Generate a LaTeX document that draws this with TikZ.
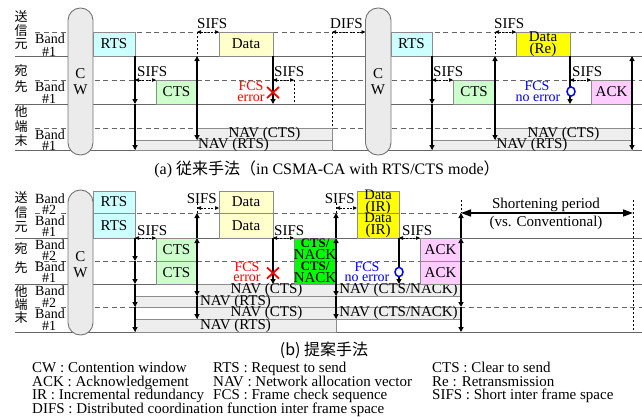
\documentclass[tikz,border=0pt]{standalone}
\usepackage{fontspec}
\setmainfont{Liberation Serif}
\newfontfamily\jp{Noto Sans CJK JP}
\usetikzlibrary{arrows.meta}
\definecolor{rtsc}{HTML}{CCFFFF}
\definecolor{ctsc}{HTML}{CCFFCC}
\definecolor{datc}{HTML}{FFFFCC}
\definecolor{yelc}{HTML}{FFFF00}
\definecolor{ackc}{HTML}{FFCCFF}
\definecolor{nackc}{HTML}{00FF00}
\definecolor{navc}{HTML}{EEEEEE}
\definecolor{cwc}{HTML}{EBEBEB}
\tikzset{
 txt/.style={inner sep=0pt, align=center, font=\fontsize{15}{12}\selectfont},
 boxst/.style={draw=black!45, line width=0.8pt},
 hl/.style={draw=black!60, line width=0.8pt},
 hd/.style={draw=black!60, line width=0.8pt, dash pattern=on 5pt off 3.5pt},
 cwst/.style={draw=black!55, fill=cwc, line width=0.9pt, rounded corners=12.4pt},
 va/.style={line width=1.3pt, -{Triangle[length=5pt,width=5pt]}},
 sa/.style={line width=0.7pt, dash pattern=on 2pt off 1.5pt, {Triangle[length=4pt,width=3.5pt]}-{Triangle[length=4pt,width=3.5pt]}},
 vd/.style={line width=0.7pt, dash pattern=on 2pt off 2pt},
 jpl/.style={inner sep=0pt, font=\jp\fontsize{13}{13}\selectfont},
 bl/.style={inner sep=0pt, font=\fontsize{14}{14}\selectfont},
 bw/.style={inner sep=0.8pt, fill=white, font=\fontsize{14}{14}\selectfont},
 fcs/.style={inner sep=0pt, font=\fontsize{14}{14}\selectfont},
 lg/.style={inner sep=0pt, anchor=base west, font=\fontsize{15}{14}\selectfont},
 sl/.style={inner sep=0pt, font=\fontsize{15}{15}\selectfont},
 xm/.style={red, line width=1.8pt},
 om/.style={blue, line width=1.5pt, fill=white},
}
\newcommand\mybox[7]{\path[boxst, fill=#5] (#1,#2) rectangle (#3,#4);
 \node[txt] (#7) at ({(#1+#3)/2},{(#2+#4)/2}) {#6};}
\begin{document}
\begin{tikzpicture}[x=1pt,y=-1pt]
\useasboundingbox (0,0) rectangle (642,416);
%% ================= (a) =================
\draw[hl] (15,56) -- (642,56);
\draw[hl] (15,104) -- (642,104);
\draw[hl] (15,150) -- (642,150);
\draw[hd] (35,32) -- (642,32);
\draw[hd] (35,80) -- (642,80);
\draw[hd] (35,128) -- (642,128);
% NAV
\mybox{197}{128}{332}{140}{navc}{NAV (CTS)}{anc1}
\mybox{135}{140}{332}{150}{navc}{NAV (RTS)}{anr1}
\mybox{495}{128}{632}{140}{navc}{NAV (CTS)}{anc2}
\mybox{432}{140}{632}{150}{navc}{NAV (RTS)}{anr2}
% CW
\path[cwst] (68,8) rectangle (93,155);
\node[sl] (acw1) at (80.5,74) {C};
\node[sl] (acw1w) at (80.5,90) {W};
\path[cwst] (365.5,8) rectangle (391,155);
\node[sl] (acw2) at (378,74) {C};
\node[sl] (acw2w) at (378,90) {W};
% boxes
\mybox{93}{32}{135}{56}{rtsc}{RTS}{arts1}
\mybox{156}{80}{197}{104}{ctsc}{CTS}{acts1}
\mybox{219}{32}{273}{56}{datc}{Data}{adat1}
\mybox{391}{32}{432}{56}{rtsc}{RTS}{arts2}
\mybox{453}{80}{495}{104}{ctsc}{CTS}{acts2}
\mybox{516}{32}{570}{56}{yelc}{Data\\(Re)}{adat2}
\mybox{591}{80}{632}{104}{ackc}{ACK}{aack}
% vertical arrows
\draw[va] (135,56) -- (135,104);
\draw[va] (135,104) -- (135,150);
\draw[vd] (197,32) -- (197,56);
\draw[va] (197,100) -- (197,56);
\draw[va] (197,100) -- (197,140);
\draw[va] (273,56) -- (273,104);
\draw[vd] (294,80) -- (294,104);
\draw[vd] (332,32) -- (332,128);
\draw[va] (432,56) -- (432,104);
\draw[va] (432,104) -- (432,150);
\draw[vd] (495,32) -- (495,56);
\draw[va] (495,100) -- (495,56);
\draw[va] (495,100) -- (495,140);
\draw[va] (570,56) -- (570,104);
\draw[va] (632,100) -- (632,56);
\draw[va] (632,100) -- (632,150);
% SIFS
\draw[sa] (135,80) -- (156,80);
\node[sl, anchor=south west] (as1) at (137,77) {SIFS};
\draw[sa] (197,32) -- (219,32);
\node[sl, anchor=south west] (as2) at (197,29) {SIFS};
\draw[sa] (273,80) -- (294,80);
\node[sl, anchor=south west] (as3) at (274,77) {SIFS};
\draw[sa] (332,32) -- (365.5,32);
\node[sl, anchor=south west] (adifs) at (330,29) {DIFS};
\draw[sa] (432,80) -- (453,80);
\node[sl, anchor=south west] (as4) at (433,77) {SIFS};
\draw[sa] (495,32) -- (516,32);
\node[sl, anchor=south west] (as5) at (494,29) {SIFS};
\draw[sa] (570,80) -- (591,80);
\node[sl, anchor=south west] (as6) at (572,77) {SIFS};
% FCS
\draw[xm] (267,87) -- (279,98) (267,98) -- (279,87);
\node[fcs, red] (afe1) at (251,86) {FCS};
\node[fcs, red] (afe2) at (251,98) {error};
\draw[om] (571,91.5) ellipse [x radius=4, y radius=4.6];
\node[fcs, blue] (afn1) at (537,86) {FCS};
\node[fcs, blue] (afn2) at (538,98) {no error};
% left labels
\node[jpl] (a1) at (21,17) {送};
\node[jpl] (a2) at (21,31) {信};
\node[jpl] (a3) at (21,44) {元};
\node[jpl] (a4) at (21,71) {宛};
\node[jpl] (a5) at (21,87) {先};
\node[jpl] (a6) at (21,112) {他};
\node[jpl] (a7) at (21,127) {端};
\node[jpl] (a8) at (21,141) {末};
\node[bl] (ab1) at (50,39) {Band};
\node[bl] (an1) at (49,52) {\#1};
\node[bl] (ab2) at (50,87) {Band};
\node[bl] (an2) at (49,99) {\#1};
\node[bl] (ab3) at (50,135) {Band};
\node[bl] (an3) at (49,146) {\#1};
\node[inner sep=0pt, font=\fontsize{16}{16}\selectfont] (capa) at (327,169) {(a) {\jp 従来手法（}in CSMA-CA with RTS/CTS mode{\jp ）}};
%% ================= (b) =================
\draw[hl] (15,238) -- (642,238);
\draw[hl] (15,284) -- (642,284);
\draw[hl] (15,332) -- (642,332);
\draw[hd] (35,213) -- (461,213);
\draw[hd] (35,261) -- (642,261);
\draw[hd] (35,307) -- (642,307);
% NAV
\mybox{197}{284}{336}{296}{navc}{NAV (CTS)}{bnc1}
\mybox{135}{296}{336}{307}{navc}{NAV (RTS)}{bnr1}
\mybox{197}{307}{336}{319}{navc}{NAV (CTS)}{bnc2}
\mybox{135}{319}{336}{332}{navc}{NAV (RTS)}{bnr2}
\mybox{336}{284}{461}{296}{navc}{NAV (CTS/NACK)}{bnn1}
\mybox{336}{307}{461}{319}{navc}{NAV (CTS/NACK)}{bnn2}
% CW
\path[cwst] (68,190) rectangle (93,335);
\node[sl] (bcw) at (80.5,257) {C};
\node[sl] (bcww) at (80.5,273) {W};
% boxes
\mybox{93}{191}{135}{213}{rtsc}{RTS}{brts2}
\mybox{93}{213}{135}{238}{rtsc}{RTS}{brts1}
\mybox{156}{238}{197}{261}{ctsc}{CTS}{bcts2}
\mybox{156}{261}{197}{284}{ctsc}{CTS}{bcts1}
\mybox{219}{191}{273}{213}{datc}{Data}{bdat2}
\mybox{219}{213}{273}{238}{datc}{Data}{bdat1}
\mybox{294}{238}{336}{261}{nackc}{\fontsize{13}{10}\selectfont\bfseries CTS/\\NACK}{bnk2}
\mybox{294}{261}{336}{284}{nackc}{\fontsize{13}{10}\selectfont\bfseries CTS/\\NACK}{bnk1}
\mybox{357}{191}{399}{213}{yelc}{\fontsize{14.5}{11}\selectfont Data\\(IR)}{bir2}
\mybox{357}{213}{399}{238}{yelc}{\fontsize{14.5}{11}\selectfont Data\\(IR)}{bir1}
\mybox{420}{238}{461}{261}{ackc}{ACK}{back2}
\mybox{420}{261}{461}{284}{ackc}{ACK}{back1}
% vertical arrows
\draw[va] (135,238) -- (135,261);
\draw[va] (135,261) -- (135,284);
\draw[va] (135,284) -- (135,307);
\draw[va] (135,307) -- (135,332);
\draw[vd] (197,203) -- (197,213);
\draw[va] (197,238) -- (197,213);
\draw[va] (197,261) -- (197,238);
\draw[va] (197,261) -- (197,296);
\draw[va] (197,296) -- (197,319);
\draw[va] (273,238) -- (273,284);
\draw[vd] (336,203) -- (336,213);
\draw[va] (336,238) -- (336,213);
\draw[va] (336,261) -- (336,238);
\draw[va] (336,261) -- (336,296);
\draw[va] (336,296) -- (336,319);
\draw[va] (399,238) -- (399,284);
\draw[vd] (461,200) -- (461,213);
\draw[va] (461,238) -- (461,213);
\draw[va] (461,270) -- (461,238);
\draw[va] (461,270) -- (461,307);
\draw[va] (461,307) -- (461,332);
% SIFS
\draw[sa] (135,238) -- (156,238);
\node[sl, anchor=south west] (bs1) at (137,235.5) {SIFS};
\draw[sa] (197,208) -- (219,208);
\node[sl, anchor=south east] (bs2) at (217,204) {SIFS};
\draw[sa] (273,238) -- (294,238);
\node[sl, anchor=south west] (bs3) at (274,235.5) {SIFS};
\draw[sa] (336,208) -- (357,208);
\node[sl, anchor=south east] (bs4) at (355,204) {SIFS};
\draw[sa] (399,238) -- (420,238);
\node[sl, anchor=south west] (bs5) at (402,235.5) {SIFS};
% shortening
\draw[vd] (633,200) -- (633,332);
\draw[line width=1.4pt, {Triangle[length=10pt,width=7pt]}-{Triangle[length=10pt,width=7pt]}] (461,213) -- (633,213);
\node[sl] (sp1) at (546,205) {Shortening period};
\node[sl] (sp2) at (546,223) {(vs. Conventional)};
% FCS
\draw[xm] (267,267.5) -- (279,278.5) (267,278.5) -- (279,267.5);
\node[fcs, red] (bfe1) at (247,267) {FCS};
\node[fcs, red] (bfe2) at (247,278) {error};
\draw[om] (399,272) ellipse [x radius=4, y radius=4.6];
\node[fcs, blue] (bfn1) at (367,267) {FCS};
\node[fcs, blue] (bfn2) at (367,278) {no error};
% left labels
\node[jpl] (b1) at (21,198) {送};
\node[jpl] (b2) at (21,213) {信};
\node[jpl] (b3) at (21,227) {元};
\node[jpl] (b4) at (21,249) {宛};
\node[jpl] (b5) at (21,268) {先};
\node[jpl] (b6) at (21,292) {他};
\node[jpl] (b7) at (21,305) {端};
\node[jpl] (b8) at (21,318) {末};
\node[bl] (bb1) at (50,199) {Band};
\node[bw] (bn1) at (49,209.5) {\#2};
\node[bl] (bb2) at (50,221) {Band};
\node[bl] (bn2) at (49,232) {\#1};
\node[bl] (bb3) at (50,245) {Band};
\node[bw] (bn3) at (49,256) {\#2};
\node[bl] (bb4) at (50,267) {Band};
\node[bl] (bn4) at (49,278) {\#1};
\node[bl] (bb5) at (50,291) {Band};
\node[bw] (bn5) at (49,302.5) {\#2};
\node[bl] (bb6) at (50,314) {Band};
\node[bl] (bn6) at (49,326) {\#1};
\node[inner sep=0pt, font=\jp\fontsize{16}{16}\selectfont] (capb) at (324,350) {(b) 提案手法};
%% legend
\node[lg] (l1) at (32,372) {CW : Contention window};
\node[lg] (l2) at (213,372) {RTS : Request to send};
\node[lg] (l3) at (432,372) {CTS : Clear to send};
\node[lg] (l4) at (32,386) {ACK : Acknowledgement};
\node[lg] (l5) at (213,386) {NAV : Network allocation vector};
\node[lg] (l6) at (432,386) {Re : Retransmission};
\node[lg] (l7) at (32,399.5) {IR : Incremental redundancy};
\node[lg] (l8) at (213,399.5) {FCS : Frame check sequence};
\node[lg] (l9) at (432,399.5) {SIFS : Short inter frame space};
\node[lg] (l10) at (32,413) {DIFS : Distributed coordination function inter frame space};
\end{tikzpicture}
\end{document}
